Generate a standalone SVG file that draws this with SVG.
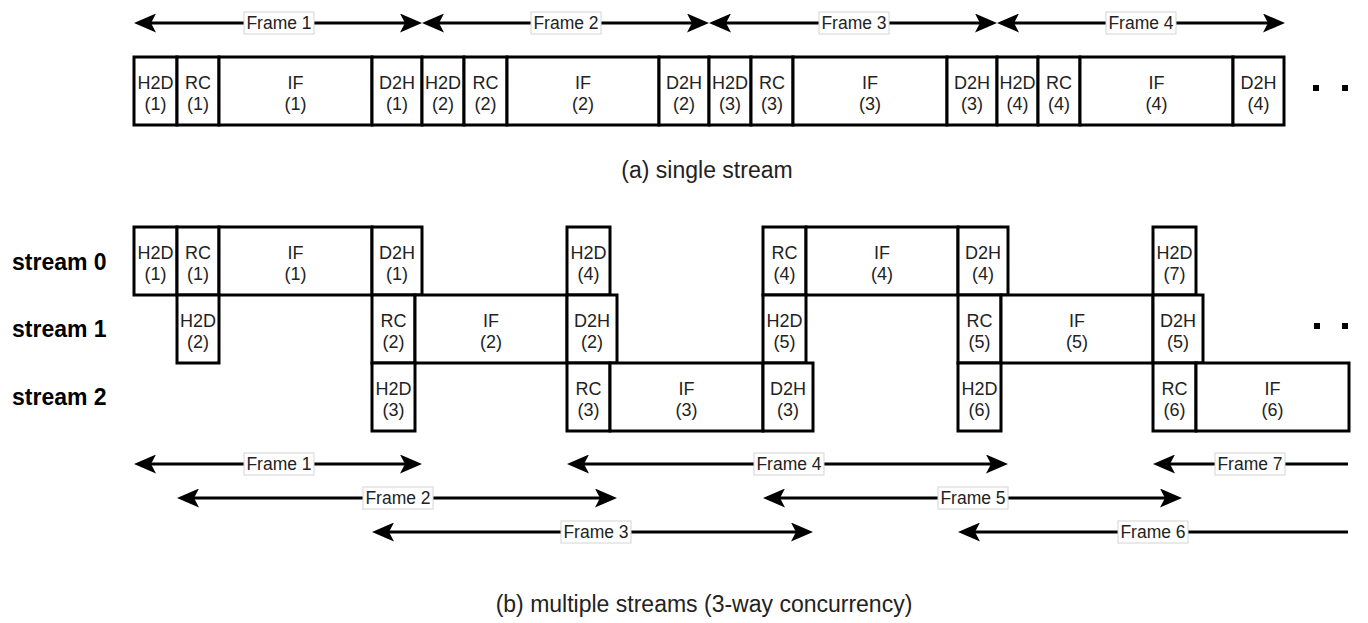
<svg xmlns="http://www.w3.org/2000/svg" width="1368" height="623" viewBox="0 0 1368 623">
<style>
.box{fill:#fff;stroke:#000;stroke-width:3}
.t{font-family:"Liberation Sans",Arial,sans-serif;font-size:18px;text-anchor:middle;fill:#222}
.fl{fill:#fff;stroke:#d4d4d4;stroke-width:1}
.ft{font-family:"Liberation Sans",Arial,sans-serif;font-size:17.5px;text-anchor:middle;fill:#222}
.ln{stroke:#000;stroke-width:3;fill:none}
.both{marker-start:url(#ah);marker-end:url(#ah)}
.st{marker-start:url(#ah)}
.sl{font-family:"Liberation Sans",Arial,sans-serif;font-size:23px;font-weight:bold;fill:#000}
.cap{font-family:"Liberation Sans",Arial,sans-serif;font-size:23px;text-anchor:middle;fill:#222}
.dot{fill:#000}
</style>
<defs>
<marker id="ah" viewBox="0 0 22 19" refX="11" refY="9.5" markerWidth="22" markerHeight="19" markerUnits="userSpaceOnUse" orient="auto-start-reverse">
<path d="M0,0 L22,9.5 L0,19 L5,9.5 Z" fill="#000"/>
</marker>
</defs>

<!-- (a) single stream -->
<g id="a-row">
<g id="a-h2d-1"><rect class="box" x="134" y="57" width="43" height="68"/><text class="t" x="155.5" y="89">H2D</text><text class="t" x="155.5" y="110">(1)</text></g>
<g id="a-rc-1"><rect class="box" x="177" y="57" width="42" height="68"/><text class="t" x="198" y="89">RC</text><text class="t" x="198" y="110">(1)</text></g>
<g id="a-if-1"><rect class="box" x="219" y="57" width="153" height="68"/><text class="t" x="295.5" y="89">IF</text><text class="t" x="295.5" y="110">(1)</text></g>
<g id="a-d2h-1"><rect class="box" x="372" y="57" width="50" height="68"/><text class="t" x="397" y="89">D2H</text><text class="t" x="397" y="110">(1)</text></g>
<g id="a-h2d-2"><rect class="box" x="422" y="57" width="42" height="68"/><text class="t" x="443" y="89">H2D</text><text class="t" x="443" y="110">(2)</text></g>
<g id="a-rc-2"><rect class="box" x="464" y="57" width="43" height="68"/><text class="t" x="485.5" y="89">RC</text><text class="t" x="485.5" y="110">(2)</text></g>
<g id="a-if-2"><rect class="box" x="507" y="57" width="152" height="68"/><text class="t" x="583" y="89">IF</text><text class="t" x="583" y="110">(2)</text></g>
<g id="a-d2h-2"><rect class="box" x="659" y="57" width="50" height="68"/><text class="t" x="684" y="89">D2H</text><text class="t" x="684" y="110">(2)</text></g>
<g id="a-h2d-3"><rect class="box" x="709" y="57" width="42" height="68"/><text class="t" x="730" y="89">H2D</text><text class="t" x="730" y="110">(3)</text></g>
<g id="a-rc-3"><rect class="box" x="751" y="57" width="42" height="68"/><text class="t" x="772" y="89">RC</text><text class="t" x="772" y="110">(3)</text></g>
<g id="a-if-3"><rect class="box" x="793" y="57" width="154" height="68"/><text class="t" x="870" y="89">IF</text><text class="t" x="870" y="110">(3)</text></g>
<g id="a-d2h-3"><rect class="box" x="947" y="57" width="50" height="68"/><text class="t" x="972" y="89">D2H</text><text class="t" x="972" y="110">(3)</text></g>
<g id="a-h2d-4"><rect class="box" x="997" y="57" width="41" height="68"/><text class="t" x="1017.5" y="89">H2D</text><text class="t" x="1017.5" y="110">(4)</text></g>
<g id="a-rc-4"><rect class="box" x="1038" y="57" width="42" height="68"/><text class="t" x="1059" y="89">RC</text><text class="t" x="1059" y="110">(4)</text></g>
<g id="a-if-4"><rect class="box" x="1080" y="57" width="153" height="68"/><text class="t" x="1156.5" y="89">IF</text><text class="t" x="1156.5" y="110">(4)</text></g>
<g id="a-d2h-4"><rect class="box" x="1233" y="57" width="51" height="68"/><text class="t" x="1258.5" y="89">D2H</text><text class="t" x="1258.5" y="110">(4)</text></g>
</g>
<g id="a-dots"><rect class="dot" x="1313" y="85" width="6" height="6"/><rect class="dot" x="1342" y="85" width="6" height="6"/></g>

<!-- (b) multiple streams -->
<g id="stream-labels">
<text class="sl" x="12" y="270">stream 0</text>
<text class="sl" x="12" y="337">stream 1</text>
<text class="sl" x="12" y="405">stream 2</text>
</g>

<g id="b-s0">
<g id="b-h2d-1"><rect class="box" x="134" y="227" width="43" height="68"/><text class="t" x="155.5" y="259">H2D</text><text class="t" x="155.5" y="280">(1)</text></g>
<g id="b-rc-1"><rect class="box" x="177" y="227" width="42" height="68"/><text class="t" x="198" y="259">RC</text><text class="t" x="198" y="280">(1)</text></g>
<g id="b-if-1"><rect class="box" x="219" y="227" width="153" height="68"/><text class="t" x="295.5" y="259">IF</text><text class="t" x="295.5" y="280">(1)</text></g>
<g id="b-d2h-1"><rect class="box" x="372" y="227" width="50" height="68"/><text class="t" x="397" y="259">D2H</text><text class="t" x="397" y="280">(1)</text></g>
<g id="b-h2d-4"><rect class="box" x="567" y="227" width="43" height="68"/><text class="t" x="588.5" y="259">H2D</text><text class="t" x="588.5" y="280">(4)</text></g>
<g id="b-rc-4"><rect class="box" x="763" y="227" width="43" height="68"/><text class="t" x="784.5" y="259">RC</text><text class="t" x="784.5" y="280">(4)</text></g>
<g id="b-if-4"><rect class="box" x="806" y="227" width="152" height="68"/><text class="t" x="882" y="259">IF</text><text class="t" x="882" y="280">(4)</text></g>
<g id="b-d2h-4"><rect class="box" x="958" y="227" width="50" height="68"/><text class="t" x="983" y="259">D2H</text><text class="t" x="983" y="280">(4)</text></g>
<g id="b-h2d-7"><rect class="box" x="1153" y="227" width="43" height="68"/><text class="t" x="1174.5" y="259">H2D</text><text class="t" x="1174.5" y="280">(7)</text></g>
</g>

<g id="b-s1">
<g id="b-h2d-2"><rect class="box" x="177" y="295" width="42" height="68"/><text class="t" x="198" y="327">H2D</text><text class="t" x="198" y="348">(2)</text></g>
<g id="b-rc-2"><rect class="box" x="372" y="295" width="43" height="68"/><text class="t" x="393.5" y="327">RC</text><text class="t" x="393.5" y="348">(2)</text></g>
<g id="b-if-2"><rect class="box" x="415" y="295" width="152" height="68"/><text class="t" x="491" y="327">IF</text><text class="t" x="491" y="348">(2)</text></g>
<g id="b-d2h-2"><rect class="box" x="567" y="295" width="50" height="68"/><text class="t" x="592" y="327">D2H</text><text class="t" x="592" y="348">(2)</text></g>
<g id="b-h2d-5"><rect class="box" x="763" y="295" width="43" height="68"/><text class="t" x="784.5" y="327">H2D</text><text class="t" x="784.5" y="348">(5)</text></g>
<g id="b-rc-5"><rect class="box" x="958" y="295" width="43" height="68"/><text class="t" x="979.5" y="327">RC</text><text class="t" x="979.5" y="348">(5)</text></g>
<g id="b-if-5"><rect class="box" x="1001" y="295" width="152" height="68"/><text class="t" x="1077" y="327">IF</text><text class="t" x="1077" y="348">(5)</text></g>
<g id="b-d2h-5"><rect class="box" x="1153" y="295" width="50" height="68"/><text class="t" x="1178" y="327">D2H</text><text class="t" x="1178" y="348">(5)</text></g>
</g>

<g id="b-s2">
<g id="b-h2d-3"><rect class="box" x="372" y="363" width="43" height="68"/><text class="t" x="393.5" y="395">H2D</text><text class="t" x="393.5" y="416">(3)</text></g>
<g id="b-rc-3"><rect class="box" x="567" y="363" width="43" height="68"/><text class="t" x="588.5" y="395">RC</text><text class="t" x="588.5" y="416">(3)</text></g>
<g id="b-if-3"><rect class="box" x="610" y="363" width="153" height="68"/><text class="t" x="686.5" y="395">IF</text><text class="t" x="686.5" y="416">(3)</text></g>
<g id="b-d2h-3"><rect class="box" x="763" y="363" width="50" height="68"/><text class="t" x="788" y="395">D2H</text><text class="t" x="788" y="416">(3)</text></g>
<g id="b-h2d-6"><rect class="box" x="958" y="363" width="43" height="68"/><text class="t" x="979.5" y="395">H2D</text><text class="t" x="979.5" y="416">(6)</text></g>
<g id="b-rc-6"><rect class="box" x="1153" y="363" width="43" height="68"/><text class="t" x="1174.5" y="395">RC</text><text class="t" x="1174.5" y="416">(6)</text></g>
<g id="b-if-6"><rect class="box" x="1196" y="363" width="153" height="68"/><text class="t" x="1272.5" y="395">IF</text><text class="t" x="1272.5" y="416">(6)</text></g>
</g>
<g id="b-dots"><rect class="dot" x="1314" y="323" width="6" height="6"/><rect class="dot" x="1342" y="323" width="6" height="6"/></g>

<!-- connectors -->
<g id="connectors">
<line class="ln both" x1="145" y1="23" x2="411" y2="23"/>
<line class="ln both" x1="433" y1="23" x2="698" y2="23"/>
<line class="ln both" x1="720" y1="23" x2="986" y2="23"/>
<line class="ln both" x1="1008" y1="23" x2="1274" y2="23"/>

<line class="ln both" x1="145" y1="464" x2="411" y2="464"/>
<line class="ln both" x1="578" y1="464" x2="997" y2="464"/>
<line class="ln st" x1="1164" y1="464" x2="1348" y2="464"/>
<line class="ln both" x1="188" y1="498" x2="606" y2="498"/>
<line class="ln both" x1="774" y1="498" x2="1171" y2="498"/>
<line class="ln both" x1="383" y1="532" x2="802" y2="532"/>
<line class="ln st" x1="969" y1="532" x2="1348" y2="532"/>
</g>

<g id="frame-labels">
<g id="lbl-a1"><rect class="fl" x="244" y="12" width="70" height="22"/><text class="ft" x="279" y="29">Frame 1</text></g>
<g id="lbl-a2"><rect class="fl" x="531" y="12" width="70" height="22"/><text class="ft" x="566" y="29">Frame 2</text></g>
<g id="lbl-a3"><rect class="fl" x="819" y="12" width="70" height="22"/><text class="ft" x="854" y="29">Frame 3</text></g>
<g id="lbl-a4"><rect class="fl" x="1106" y="12" width="70" height="22"/><text class="ft" x="1141" y="29">Frame 4</text></g>

<g id="lbl-b1"><rect class="fl" x="244" y="453" width="70" height="22"/><text class="ft" x="279" y="470">Frame 1</text></g>
<g id="lbl-b4"><rect class="fl" x="754" y="453" width="70" height="22"/><text class="ft" x="789" y="470">Frame 4</text></g>
<g id="lbl-b7"><rect class="fl" x="1215" y="453" width="70" height="22"/><text class="ft" x="1250" y="470">Frame 7</text></g>
<g id="lbl-b2"><rect class="fl" x="363" y="487" width="70" height="22"/><text class="ft" x="398" y="504">Frame 2</text></g>
<g id="lbl-b5"><rect class="fl" x="938" y="487" width="70" height="22"/><text class="ft" x="973" y="504">Frame 5</text></g>
<g id="lbl-b3"><rect class="fl" x="561" y="521" width="70" height="22"/><text class="ft" x="596" y="538">Frame 3</text></g>
<g id="lbl-b6"><rect class="fl" x="1118" y="521" width="70" height="22"/><text class="ft" x="1153" y="538">Frame 6</text></g>
</g>

<g id="captions">
<text class="cap" x="707" y="178">(a) single stream</text>
<text class="cap" x="704" y="612">(b) multiple streams (3-way concurrency)</text>
</g>
</svg>
